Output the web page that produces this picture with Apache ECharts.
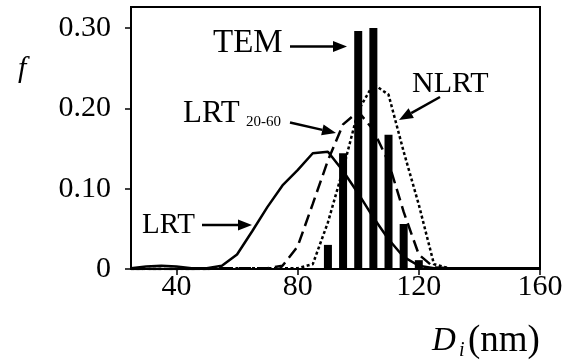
<!DOCTYPE html>
<html>
<head>
<meta charset="utf-8">
<script src="https://cdn.jsdelivr.net/npm/echarts@6/dist/echarts.min.js"></script>
<style>
  html, body { margin: 0; padding: 0; background: #fff; }
  #chart { width: 566px; height: 360px; }
</style>
</head>
<body>
<div id="chart"></div>
<script>
// Particle diameter (nm) sampled every 5 nm for the fitted distributions
const diameters = [25, 30, 35, 40, 45, 50, 55, 60, 65, 70, 75, 80, 85, 90, 95, 100,
                   105, 110, 115, 120, 125, 130, 135, 140, 145, 150, 155, 160];

// LRT (solid)
const lrt = [0.001, 0.003, 0.004, 0.003, 0.001, 0.001, 0.004, 0.018, 0.047, 0.077, 0.104, 0.123, 0.144, 0.146, 0.122, 0.094,
             0.064, 0.037, 0.015, 0.004, 0.001, 0.001, 0.001, 0.001, 0.001, 0.001, 0.001, 0.001];

// LRT 20-60 (dashed)
const lrt2060 = [0.000, 0.000, 0.000, 0.000, 0.000, 0.000, 0.001, 0.001, 0.001, 0.001, 0.004, 0.028, 0.081, 0.135, 0.180, 0.196,
                 0.173, 0.133, 0.071, 0.018, 0.002, 0.001, 0.001, 0.001, 0.001, 0.001, 0.001, 0.001];

// NLRT (dotted)
const nlrt = [0.000, 0.000, 0.000, 0.000, 0.000, 0.000, 0.001, 0.001, 0.001, 0.001, 0.001, 0.001, 0.006, 0.058, 0.124, 0.197,
              0.230, 0.217, 0.146, 0.080, 0.006, 0.001, 0.001, 0.001, 0.001, 0.001, 0.001, 0.001];

// TEM histogram
const temDiameters = [90, 95, 100, 105, 110, 115, 120];
const temFreq = [0.030, 0.144, 0.296, 0.300, 0.167, 0.056, 0.011];

// Tick labels
const xTicks = [40, 80, 120, 160];
const yTicks = [0, 0.1, 0.2, 0.3];

const pair = (xs, ys) => xs.map((x, i) => [x, ys[i]]);

const SERIF = '"Liberation Serif", "Times New Roman", serif';

function arrow(x1, y1, x2, y2) {
  const ang = Math.atan2(y2 - y1, x2 - x1);
  const len = 14, half = 5.5;
  const bx = x2 - len * Math.cos(ang), by = y2 - len * Math.sin(ang);
  const px = -Math.sin(ang) * half, py = Math.cos(ang) * half;
  return [
    { type: 'line', shape: { x1: x1, y1: y1, x2: bx, y2: by }, style: { stroke: '#000', lineWidth: 2.5 } },
    { type: 'polygon', shape: { points: [[x2, y2], [bx + px, by + py], [bx - px, by - py]] }, style: { fill: '#000' } }
  ];
}

function label(text, left, top, size, italic) {
  return {
    type: 'text', left: left, top: top,
    style: { text: text, font: (italic ? 'italic ' : '') + size + 'px ' + SERIF, fill: '#000' }
  };
}

const chart = echarts.init(document.getElementById('chart'), null, { renderer: 'canvas' });

chart.setOption({
  animation: false,
  backgroundColor: '#fff',
  grid: {
    left: 131, right: 26, top: 7, bottom: 91,
    show: true, borderColor: '#000', borderWidth: 2
  },
  xAxis: {
    type: 'value', min: 25, max: 160,
    splitLine: { show: false },
    axisLine: { lineStyle: { color: '#000', width: 2 } },
    axisTick: { show: true, inside: false, length: 6, customValues: xTicks, lineStyle: { color: '#000', width: 1.5 } },
    axisLabel: { customValues: xTicks, margin: 3, color: '#000', fontFamily: SERIF, fontSize: 30 }
  },
  yAxis: {
    type: 'value', min: 0, max: 0.326,
    splitLine: { show: false },
    axisLine: { lineStyle: { color: '#000', width: 2 } },
    axisTick: { show: true, inside: false, length: 6, customValues: yTicks, lineStyle: { color: '#000', width: 1.5 } },
    axisLabel: {
      customValues: yTicks, margin: 20, color: '#000', fontFamily: SERIF, fontSize: 30,
      formatter: v => (v === 0 ? '0' : v.toFixed(2))
    }
  },
  series: [
    {
      name: 'LRT', type: 'line', data: pair(diameters, lrt), showSymbol: false, z: 2,
      lineStyle: { color: '#000', width: 2.5 }
    },
    {
      name: 'LRT20-60', type: 'line', data: pair(diameters, lrt2060), showSymbol: false, z: 2,
      lineStyle: { color: '#000', width: 2.5, type: [12, 6] }
    },
    {
      name: 'NLRT', type: 'line', data: pair(diameters, nlrt), showSymbol: false, z: 2,
      lineStyle: { color: '#000', width: 2.5, type: [3, 2.5] }
    },
    {
      name: 'TEM', type: 'bar', data: pair(temDiameters, temFreq), barWidth: 8, z: 3,
      itemStyle: { color: '#000' }
    }
  ],
  graphic: [
    label('f', 18, 54, 30, true),
    label('D', 432, 325, 33, true),
    label('i', 459, 341, 20, true),
    label('(nm)', 468, 323, 37, false),
    label('TEM', 213, 27, 33, false),
    label('LRT', 183, 98, 31, false),
    label('20-60', 246, 115, 15, false),
    label('LRT', 142, 211, 29, false),
    label('NLRT', 412, 69, 30, false),
    ...arrow(290, 46.5, 347, 46.5),
    ...arrow(290, 122.5, 336, 133),
    ...arrow(202, 225, 252, 225),
    ...arrow(440, 97, 399, 120)
  ]
});
</script>
</body>
</html>
